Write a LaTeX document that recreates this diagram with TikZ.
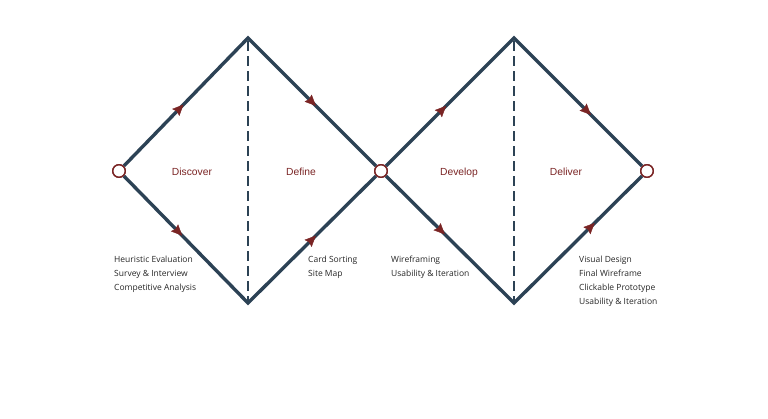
\documentclass[tikz,border=0pt]{standalone}
\usepackage{fontspec}
\setmainfont{Open Sans}
\newfontfamily\labelfont{Liberation Sans}
\usetikzlibrary{arrows.meta,decorations.markings}
\definecolor{edgeblue}{HTML}{2C4255}
\definecolor{arrred}{HTML}{7A2424}
\begin{document}
\begin{tikzpicture}[x=1pt,y=-1pt,
  hub/.style={circle,draw=arrred,fill=white,line width=1.4pt,minimum size=12.5pt,inner sep=0pt},
  edge/.style={draw=edgeblue,line width=3.4pt,line join=miter},
  arrowat/.style={postaction={decorate,decoration={markings,
      mark=at position #1 with {\arrow{Stealth[length=11pt,width=10pt,inset=1.5pt,fill=arrred,color=arrred]}}}}},
  divider/.style={draw=edgeblue,line width=2.6pt,dash pattern=on 10pt off 5pt},
  phase/.style={font=\labelfont\fontsize{10.3}{12}\selectfont,text=arrred,text height=7.5pt,text depth=2.2pt},
  notes/.style={font=\fontsize{8.5}{14}\selectfont,align=left,anchor=north west,inner sep=0pt,text=black!85}]
\path[use as bounding box] (0,0) rectangle (768,418);
\coordinate (t1) at (248,38);
\coordinate (b1) at (248,303);
\coordinate (t2) at (514,38);
\coordinate (b2) at (514,303);
\draw[divider] ([yshift=-3pt]t1) -- (b1);
\draw[divider] ([yshift=-3pt]t2) -- (b2);
\node[hub] (c1) at (119,171) {};
\node[hub] (c2) at (381,171) {};
\node[hub] (c3) at (647,171) {};
\path[edge] (c1) -- (t1) -- (c2);
\path[edge] (c1) -- (b1) -- (c2);
\path[edge] (c2) -- (t2) -- (c3);
\path[edge] (c2) -- (b2) -- (c3);
\path[arrowat=0.48] (c1) -- (t1);
\path[arrowat=0.53] (t1) -- (c2);
\path[arrowat=0.47] (c1) -- (b1);
\path[arrowat=0.53] (b1) -- (c2);
\path[arrowat=0.47] (c2) -- (t2);
\path[arrowat=0.60] (t2) -- (c3);
\path[arrowat=0.46] (c2) -- (b2);
\path[arrowat=0.63] (b2) -- (c3);
\node[hub] at (c1) {};
\node[hub] at (c2) {};
\node[hub] at (c3) {};
\node[phase] (discover) at (192,173) {Discover};
\node[phase] (define) at (301,173) {Define};
\node[phase] (develop) at (459,173) {Develop};
\node[phase] (deliver) at (566,173) {Deliver};
\node[notes] (n1) at (114,256) {Heuristic Evaluation\\Survey \& Interview\\Competitive Analysis};
\node[notes] (n2) at (308,256) {Card Sorting\\Site Map};
\node[notes] (n3) at (391,256) {Wireframing\\Usability \& Iteration};
\node[notes] (n4) at (579,256) {Visual Design\\Final Wireframe\\Clickable Prototype\\Usability \& Iteration};
\end{tikzpicture}
\end{document}
